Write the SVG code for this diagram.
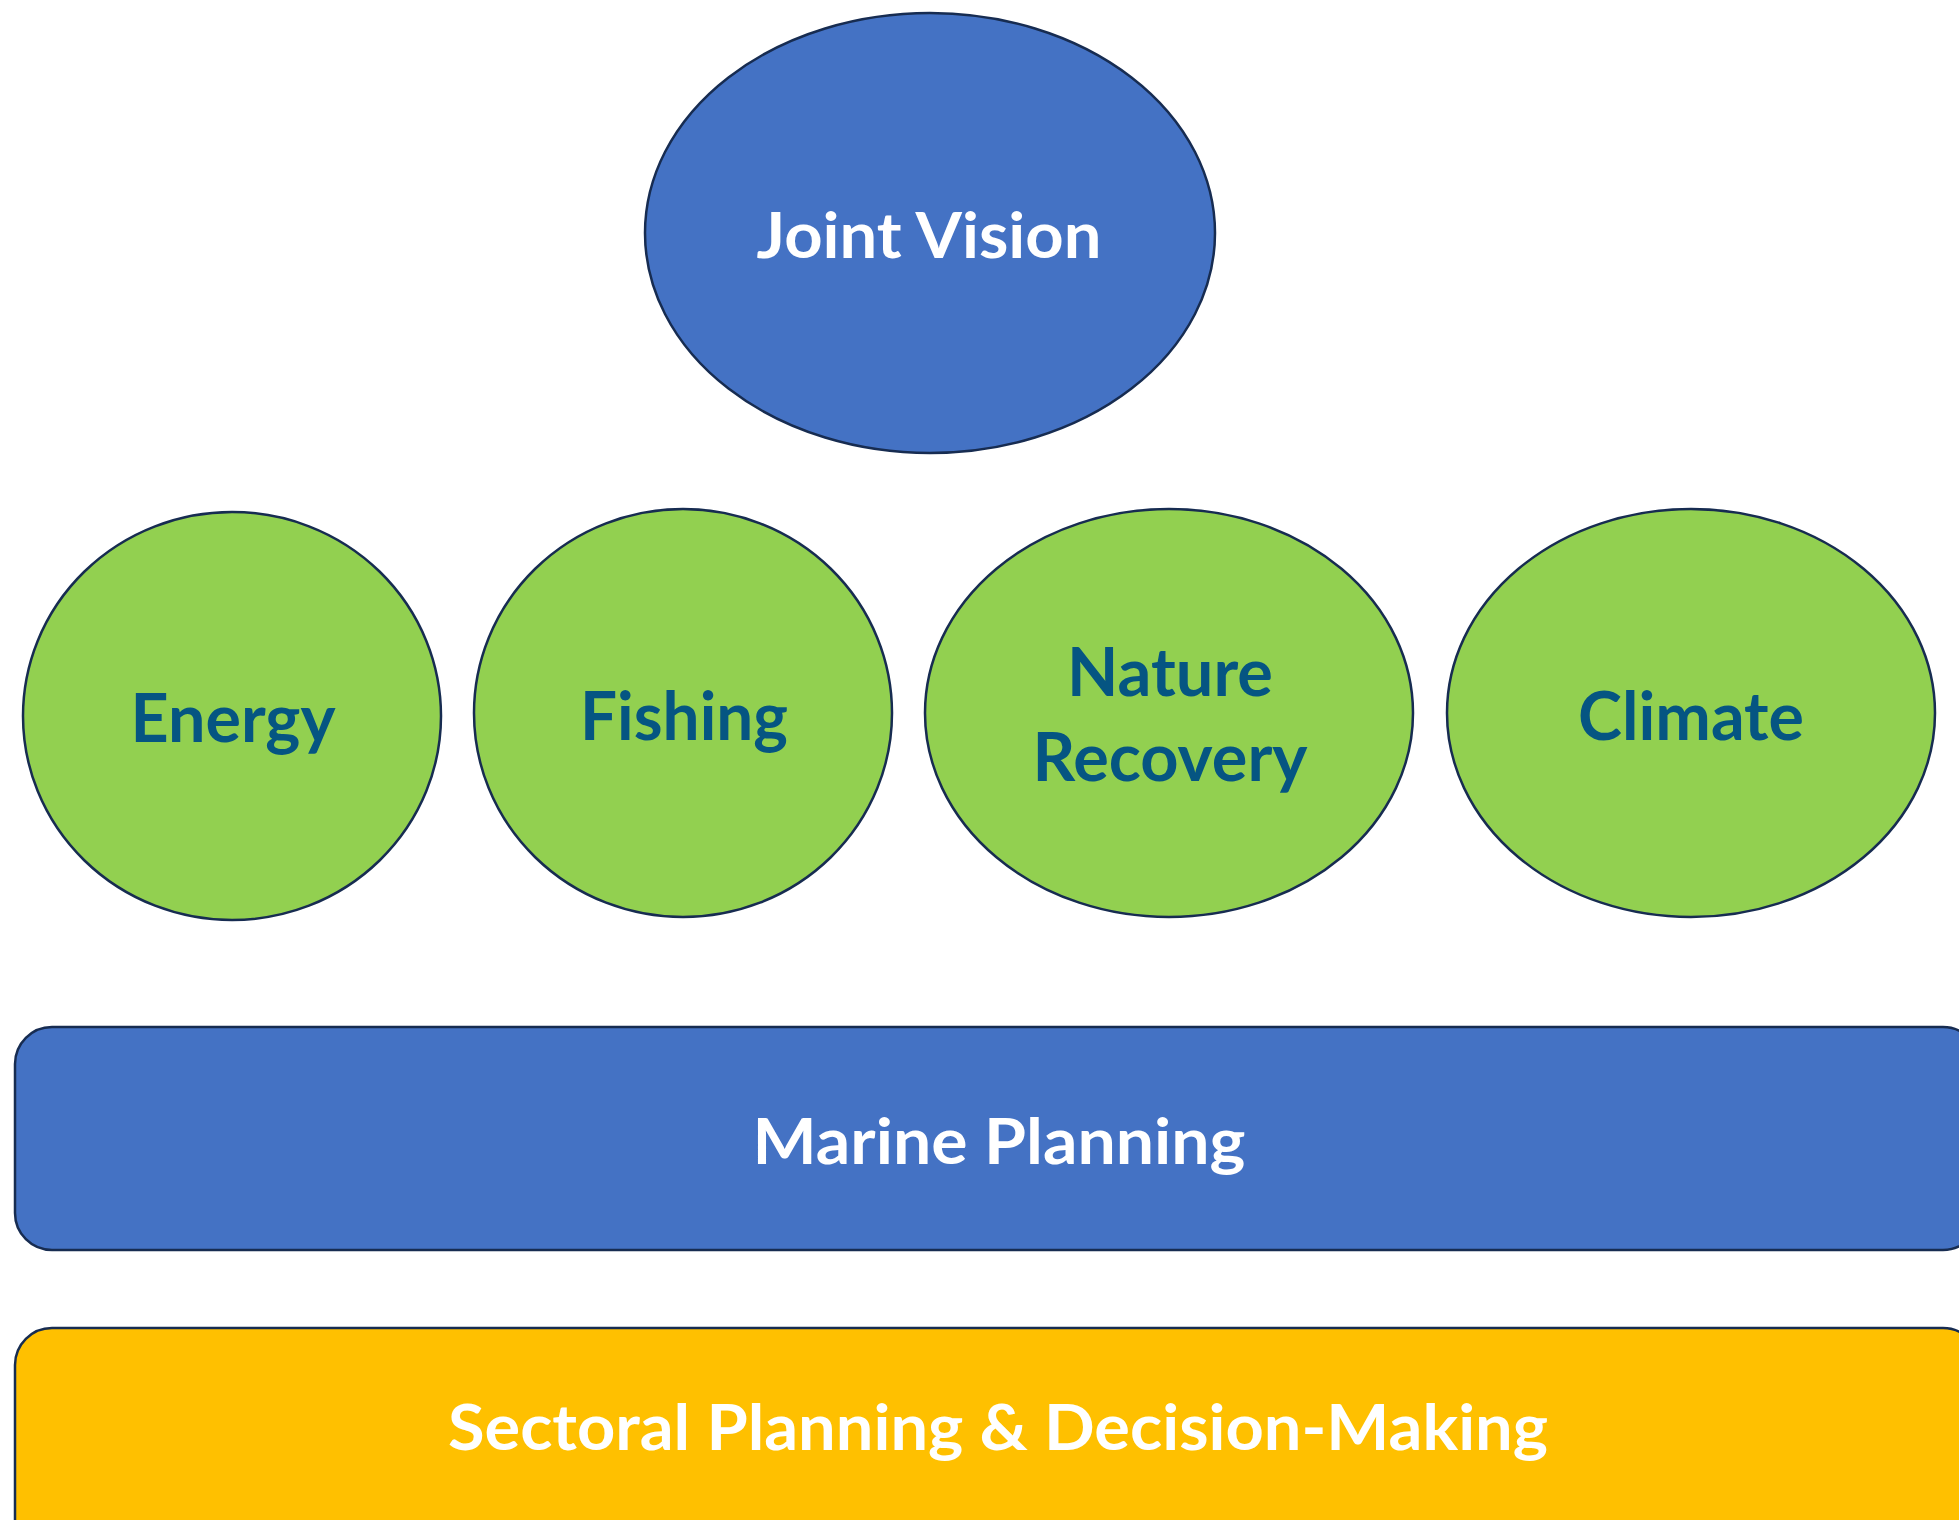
<svg xmlns="http://www.w3.org/2000/svg" width="1959" height="1520" viewBox="0 0 1959 1520">
<style>
.shape{stroke:#172C51;stroke-width:2.5}
.blue{fill:#4472C4}
.green{fill:#92D050}
.yellow{fill:#FFC000}
text{font-family:Lato,"Open Sans","Liberation Sans",sans-serif;font-weight:bold;text-anchor:middle}
.w{fill:#FFFFFF;font-size:64px}
.d{fill:#055582;font-size:66px}
</style>
<rect width="1959" height="1520" fill="#FFFFFF"/>
<g id="joint-vision">
<ellipse class="shape blue" cx="930" cy="233" rx="285" ry="220"/>
<text class="w" x="929" y="258" textLength="345" lengthAdjust="spacingAndGlyphs">Joint Vision</text>
</g>
<g id="energy">
<ellipse class="shape green" cx="232" cy="716" rx="209" ry="204"/>
<text class="d" x="233" y="742" textLength="205" lengthAdjust="spacingAndGlyphs">Energy</text>
</g>
<g id="fishing">
<ellipse class="shape green" cx="683" cy="713" rx="209" ry="204"/>
<text class="d" x="684" y="740" textLength="208" lengthAdjust="spacingAndGlyphs">Fishing</text>
</g>
<g id="nature-recovery">
<ellipse class="shape green" cx="1169" cy="713" rx="244" ry="204"/>
<text class="d" x="1170" y="696" textLength="206" lengthAdjust="spacingAndGlyphs">Nature</text>
<text class="d" x="1170" y="781" textLength="275" lengthAdjust="spacingAndGlyphs">Recovery</text>
</g>
<g id="climate">
<ellipse class="shape green" cx="1691" cy="713" rx="244" ry="204"/>
<text class="d" x="1691" y="740" textLength="226" lengthAdjust="spacingAndGlyphs">Climate</text>
</g>
<g id="marine-planning">
<rect class="shape blue" x="15" y="1027" width="1965" height="223" rx="37" ry="37"/>
<text class="w" x="999" y="1164" textLength="493" lengthAdjust="spacingAndGlyphs">Marine Planning</text>
</g>
<g id="sectoral-planning">
<rect class="shape yellow" x="15" y="1328" width="1965" height="240" rx="37" ry="37"/>
<text class="w" x="998" y="1450" textLength="1100" lengthAdjust="spacingAndGlyphs">Sectoral Planning &amp; Decision-Making</text>
</g>
<g id="connectors"/>
</svg>
